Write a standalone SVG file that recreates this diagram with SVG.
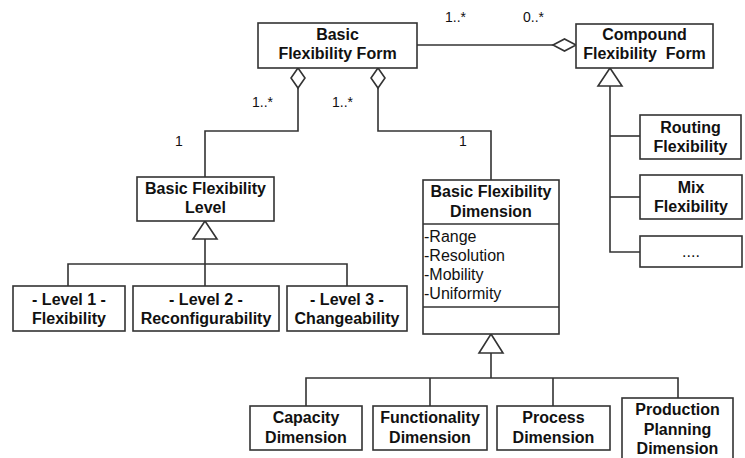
<svg xmlns="http://www.w3.org/2000/svg" width="745" height="458" viewBox="0 0 745 458">
  <defs>
    <style>
      .box { fill: #fff; stroke: #333; stroke-width: 1.6; }
      .ln { fill: none; stroke: #333; stroke-width: 1.6; }
      .dia { fill: #fff; stroke: #333; stroke-width: 1.6; }
      .t { font-family: "Liberation Sans", Arial, sans-serif; font-size: 16px; font-weight: bold; fill: #111; text-anchor: middle; }
      .a { font-family: "Liberation Sans", Arial, sans-serif; font-size: 16px; fill: #111; }
      .m { font-family: "Liberation Sans", Arial, sans-serif; font-size: 14px; fill: #111; }
    </style>
  </defs>
  <rect width="745" height="458" fill="#fff"/>

  <!-- connectors -->
  <g id="connectors">
    <!-- aggregation: Basic form to Compound form -->
    <line class="ln" x1="417" y1="45" x2="553" y2="45"/>
    <polygon class="dia" points="553,45 564.5,39 576,45 564.5,51"/>
    <!-- aggregation: Basic form to Level -->
    <polyline class="ln" points="298,88 298,131 205,131 205,177"/>
    <polygon class="dia" points="298,68 305,78 298,88 291,78"/>
    <!-- aggregation: Basic form to Dimension -->
    <polyline class="ln" points="378,88 378,131 491,131 491,180"/>
    <polygon class="dia" points="378,68 385,78 378,88 371,78"/>
    <!-- generalization: levels -->
    <polyline class="ln" points="68,286 68,264 347,264 347,286"/>
    <line class="ln" x1="205" y1="239" x2="205" y2="286"/>
    <polygon class="dia" points="205,221 217,239 193,239"/>
    <!-- generalization: dimensions -->
    <polyline class="ln" points="306,406 306,378 678,378 678,398"/>
    <line class="ln" x1="430" y1="378" x2="430" y2="406"/>
    <line class="ln" x1="553" y1="378" x2="553" y2="406"/>
    <line class="ln" x1="491" y1="353" x2="491" y2="378"/>
    <polygon class="dia" points="491,334 503,353 479,353"/>
    <!-- generalization: compound forms -->
    <polyline class="ln" points="610,86 610,252 640,252"/>
    <line class="ln" x1="610" y1="136" x2="640" y2="136"/>
    <line class="ln" x1="610" y1="197" x2="640" y2="197"/>
    <polygon class="dia" points="610,68 622,86 598,86"/>
    <!-- multiplicities -->
    <text class="m" x="445" y="22">1..*</text>
    <text class="m" x="523" y="22">0..*</text>
    <text class="m" x="252" y="107">1..*</text>
    <text class="m" x="332" y="107">1..*</text>
    <text class="m" x="175" y="146">1</text>
    <text class="m" x="459" y="146">1</text>
  </g>

  <g id="basic-form">
    <rect class="box" x="258" y="23" width="159" height="45"/>
    <text class="t" x="337.5" y="40">Basic</text>
    <text class="t" x="337.5" y="59">Flexibility Form</text>
  </g>

  <g id="compound-form">
    <rect class="box" x="576" y="24" width="137" height="44"/>
    <text class="t" x="644.5" y="40">Compound</text>
    <text class="t" x="644.5" y="59" xml:space="preserve">Flexibility  Form</text>
  </g>

  <g id="basic-level">
    <rect class="box" x="137" y="177" width="137" height="44"/>
    <text class="t" x="205.5" y="194">Basic Flexibility</text>
    <text class="t" x="205.5" y="213">Level</text>
  </g>

  <g id="level-1">
    <rect class="box" x="13" y="286" width="112" height="45"/>
    <text class="t" x="69" y="305">- Level 1 -</text>
    <text class="t" x="69" y="324">Flexibility</text>
  </g>

  <g id="level-2">
    <rect class="box" x="133" y="286" width="146" height="45"/>
    <text class="t" x="206" y="305">- Level 2 -</text>
    <text class="t" x="206" y="324">Reconfigurability</text>
  </g>

  <g id="level-3">
    <rect class="box" x="287" y="286" width="120" height="45"/>
    <text class="t" x="347" y="305">- Level 3 -</text>
    <text class="t" x="347" y="324">Changeability</text>
  </g>

  <g id="basic-dimension">
    <rect class="box" x="423" y="180" width="136" height="154"/>
    <line class="ln" x1="423" y1="224" x2="559" y2="224"/>
    <line class="ln" x1="423" y1="307" x2="559" y2="307"/>
    <text class="t" x="491" y="197">Basic Flexibility</text>
    <text class="t" x="491" y="217">Dimension</text>
    <text class="a" x="424" y="242">-Range</text>
    <text class="a" x="424" y="261">-Resolution</text>
    <text class="a" x="424" y="280">-Mobility</text>
    <text class="a" x="424" y="299">-Uniformity</text>
  </g>

  <g id="routing">
    <rect class="box" x="640" y="115" width="101" height="44"/>
    <text class="t" x="690.5" y="133">Routing</text>
    <text class="t" x="690.5" y="152">Flexibility</text>
  </g>

  <g id="mix">
    <rect class="box" x="640" y="175" width="102" height="44"/>
    <text class="t" x="691" y="193">Mix</text>
    <text class="t" x="691" y="212">Flexibility</text>
  </g>

  <g id="more">
    <rect class="box" x="640" y="236" width="102" height="31"/>
    <text class="a" x="691" y="257" text-anchor="middle" font-size="13">....</text>
  </g>

  <g id="capacity">
    <rect class="box" x="250" y="406" width="112" height="44"/>
    <text class="t" x="306" y="423">Capacity</text>
    <text class="t" x="306" y="443">Dimension</text>
  </g>

  <g id="functionality">
    <rect class="box" x="373" y="406" width="114" height="44"/>
    <text class="t" x="430" y="423">Functionality</text>
    <text class="t" x="430" y="443">Dimension</text>
  </g>

  <g id="process">
    <rect class="box" x="497" y="406" width="113" height="44"/>
    <text class="t" x="553.5" y="423">Process</text>
    <text class="t" x="553.5" y="443">Dimension</text>
  </g>

  <g id="production-planning">
    <rect class="box" x="622" y="398" width="111" height="66"/>
    <text class="t" x="677.5" y="415">Production</text>
    <text class="t" x="677.5" y="435">Planning</text>
    <text class="t" x="677.5" y="454">Dimension</text>
  </g>
</svg>
